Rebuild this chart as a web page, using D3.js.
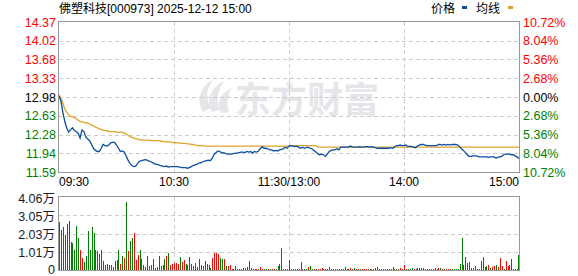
<!DOCTYPE html>
<html>
<head>
<meta charset="utf-8">
<script src="https://cdn.jsdelivr.net/npm/d3@7"></script>
<style>
  body { margin: 0; background: #fff; }
  text { font-family: "Liberation Sans", Arial, "Noto Sans CJK SC", sans-serif; }
</style>
</head>
<body>
<script>
const width = 578;
const height = 276;

// header
const title = "佛塑科技[000973] 2025-12-12 15:00";
const prevClose = 12.98;

// price axis ticks and the matching percent labels
const priceTicks = [14.37, 14.02, 13.68, 13.33, 12.98, 12.63, 12.28, 11.94, 11.59];
const pctLabels = ["10.72%", "8.04%", "5.36%", "2.68%", "0.00%", "2.68%", "5.36%", "8.04%", "10.72%"];

// time labels (minute index -> label)
const timeTicks = [0, 60, 120, 180, 240];
const timeLabels = ["09:30", "10:30", "11:30/13:00", "14:00", "15:00"];

// volume axis (unit: 万)
const volTicks = [0, 1.01, 2.03, 3.05, 4.06];
const volLabels = ["0", "1.01万", "2.03万", "3.05万", "4.06万"];

// minute prices, 09:30 .. 15:00 (241 points)
const prices = [
  13.00, 12.91, 12.70, 12.53, 12.41, 12.33, 12.37, 12.41, 12.36, 12.34,
  12.31, 12.22, 12.37, 12.34, 12.24, 12.20, 12.17, 12.10, 12.03, 11.99,
  11.97, 11.97, 12.03, 12.10, 12.08, 12.07, 12.09, 12.13, 12.14, 12.14,
  12.09, 12.03, 11.97, 11.98, 11.96, 11.89, 11.81, 11.75, 11.71, 11.69,
  11.70, 11.75, 11.79, 11.80, 11.81, 11.82, 11.81, 11.79, 11.78, 11.76,
  11.74, 11.73, 11.72, 11.71, 11.70, 11.69, 11.70, 11.68, 11.69, 11.69,
  11.69, 11.69, 11.69, 11.68, 11.67, 11.67, 11.67, 11.66, 11.67, 11.69,
  11.71, 11.72, 11.73, 11.76, 11.76, 11.78, 11.79, 11.80, 11.81, 11.80,
  11.85, 11.92, 11.95, 11.98, 11.97, 11.94, 11.95, 11.93, 11.92, 11.92,
  11.92, 11.93, 11.94, 11.94, 11.95, 11.96, 11.96, 11.95, 11.97, 11.96,
  11.97, 11.94, 11.97, 11.96, 11.98, 12.02, 12.06, 12.03, 12.03, 12.02,
  12.00, 12.00, 11.98, 11.99, 11.98, 12.00, 12.01, 12.02, 12.05, 12.03,
  12.07, 12.08, 12.07, 12.06, 12.07, 12.05, 12.03, 12.05, 12.03, 12.04,
  12.05, 12.03, 12.02, 11.99, 11.96, 11.93, 11.91, 11.92, 11.91, 11.88,
  11.92, 11.97, 11.99, 12.00, 12.00, 12.02, 12.00, 12.05, 12.05, 12.05,
  12.05, 12.05, 12.07, 12.05, 12.05, 12.05, 12.05, 12.06, 12.05, 12.05,
  12.06, 12.06, 12.05, 12.06, 12.05, 12.04, 12.03, 12.03, 12.03, 12.03,
  12.03, 12.03, 12.03, 12.04, 12.03, 12.05, 12.08, 12.08, 12.09, 12.08,
  12.08, 12.09, 12.06, 12.07, 12.06, 12.05, 12.04, 12.07, 12.09, 12.10,
  12.10, 12.09, 12.08, 12.08, 12.08, 12.08, 12.08, 12.08, 12.10, 12.10,
  12.09, 12.10, 12.09, 12.10, 12.09, 12.10, 12.10, 12.10, 12.09, 12.06,
  12.02, 11.99, 11.95, 11.91, 11.88, 11.88, 11.89, 11.89, 11.89, 11.87,
  11.87, 11.87, 11.87, 11.87, 11.86, 11.87, 11.87, 11.87, 11.85, 11.86,
  11.87, 11.88, 11.91, 11.92, 11.92, 11.92, 11.91, 11.91, 11.89, 11.87, 11.84
];

// average price line
const avgPrices = [
  13.02, 12.95, 12.87, 12.76, 12.70, 12.65, 12.62, 12.61, 12.60, 12.58,
  12.55, 12.53, 12.52, 12.51, 12.50, 12.50, 12.48, 12.46, 12.45, 12.42,
  12.41, 12.39, 12.38, 12.36, 12.36, 12.35, 12.34, 12.34, 12.34, 12.34,
  12.33, 12.33, 12.33, 12.33, 12.31, 12.30, 12.27, 12.25, 12.23, 12.22,
  12.21, 12.20, 12.19, 12.18, 12.18, 12.18, 12.18, 12.18, 12.17, 12.17,
  12.17, 12.17, 12.17, 12.16, 12.16, 12.15, 12.15, 12.15, 12.15, 12.14,
  12.13, 12.13, 12.13, 12.13, 12.12, 12.12, 12.12, 12.11, 12.11, 12.10,
  12.10, 12.09, 12.08, 12.08, 12.08, 12.08, 12.07, 12.07, 12.07, 12.07,
  12.07, 12.07, 12.07, 12.07, 12.07, 12.07, 12.07, 12.07, 12.07, 12.07,
  12.07, 12.07, 12.07, 12.07, 12.07, 12.07, 12.07, 12.07, 12.07, 12.07,
  12.07, 12.07, 12.07, 12.07, 12.07, 12.07, 12.07, 12.07, 12.07, 12.07,
  12.07, 12.07, 12.07, 12.07, 12.07, 12.07, 12.07, 12.07, 12.07, 12.07,
  12.07, 12.08, 12.08, 12.08, 12.08, 12.08, 12.08, 12.08, 12.08, 12.08,
  12.08, 12.08, 12.08, 12.08, 12.08, 12.05, 12.05, 12.05, 12.05, 12.05,
  12.05, 12.05, 12.05, 12.05, 12.05, 12.05, 12.05, 12.05, 12.05, 12.05,
  12.05, 12.05, 12.05, 12.05, 12.05, 12.05, 12.05, 12.05, 12.05, 12.05,
  12.05, 12.05, 12.05, 12.05, 12.05, 12.05, 12.05, 12.05, 12.05, 12.05,
  12.05, 12.05, 12.05, 12.05, 12.05, 12.05, 12.05, 12.05, 12.05, 12.05,
  12.05, 12.05, 12.05, 12.05, 12.05, 12.05, 12.05, 12.05, 12.05, 12.05,
  12.05, 12.05, 12.05, 12.05, 12.05, 12.05, 12.05, 12.05, 12.05, 12.05,
  12.05, 12.05, 12.05, 12.05, 12.05, 12.05, 12.05, 12.05, 12.05, 12.05,
  12.05, 12.05, 12.05, 12.05, 12.05, 12.05, 12.05, 12.05, 12.05, 12.05,
  12.05, 12.05, 12.05, 12.05, 12.05, 12.05, 12.05, 12.05, 12.05, 12.05,
  12.05, 12.05, 12.05, 12.05, 12.05, 12.05, 12.05, 12.05, 12.05, 12.05, 12.05
];

// minute volume in 万 shares
const volumes = [
  2.67, 2.22, 2.39, 1.94, 2.56, 2.72, 1.56, 1.50, 1.11, 2.44,
  1.78, 1.11, 0.67, 0.44, 0.78, 2.17, 1.11, 2.39, 2.06, 1.11,
  1.06, 0.89, 1.11, 0.50, 0.28, 0.33, 0.28, 0.28, 0.17, 0.50,
  0.56, 1.11, 0.33, 0.78, 0.67, 3.78, 1.06, 1.61, 1.78, 2.06,
  0.56, 0.83, 1.11, 0.61, 0.28, 0.17, 0.78, 0.22, 0.28, 0.61,
  0.11, 0.17, 0.78, 0.22, 0.28, 0.61, 0.78, 0.94, 0.28, 0.33,
  0.39, 0.39, 0.33, 0.72, 0.44, 0.56, 0.33, 0.28, 0.72, 0.33,
  0.22, 0.39, 0.17, 0.61, 0.28, 0.22, 0.50, 0.33, 0.28, 0.11,
  0.67, 0.94, 0.94, 0.89, 0.67, 0.61, 0.61, 0.22, 0.22, 0.28,
  0.06, 0.06, 0.22, 0.06, 0.06, 0.06, 0.11, 0.11, 0.17, 0.50,
  0.11, 0.06, 0.06, 0.06, 0.06, 0.17, 0.06, 0.06, 0.06, 0.06,
  0.06, 0.06, 0.06, 0.06, 0.22, 0.33, 1.22, 0.06, 0.06, 0.06,
  0.56, 0.06, 0.06, 0.06, 0.06, 0.06, 0.44, 0.06, 0.06, 0.06,
  0.17, 0.22, 0.06, 0.06, 0.06, 0.06, 0.06, 0.11, 0.06, 0.06,
  0.06, 0.17, 0.06, 0.06, 0.06, 0.06, 0.06, 0.06, 0.06, 0.17,
  0.06, 0.06, 0.11, 0.06, 0.11, 0.06, 0.06, 0.06, 0.06, 0.06,
  0.06, 0.06, 0.06, 0.06, 0.06, 0.11, 0.17, 0.06, 0.06, 0.06,
  0.06, 0.06, 0.06, 0.06, 0.17, 0.06, 0.06, 0.06, 0.11, 0.06,
  0.28, 0.06, 0.06, 0.06, 0.11, 0.06, 0.06, 0.11, 0.11, 0.11,
  0.11, 0.06, 0.06, 0.06, 0.06, 0.06, 0.11, 0.06, 0.11, 0.11,
  0.06, 0.06, 0.06, 0.06, 0.06, 0.06, 0.06, 0.06, 0.06, 0.33,
  1.78, 0.28, 0.72, 0.39, 0.44, 0.11, 0.11, 0.22, 0.06, 0.06,
  0.50, 0.72, 0.17, 0.22, 0.28, 0.11, 0.17, 0.22, 0.28, 0.17,
  0.67, 0.22, 0.06, 0.50, 0.22, 0.28, 0.61, 0.06, 0.06, 0.06, 0.83
];

// r = up minute, g = down minute
const volDir = ("gggggrrggg grrggggggr rgrggrrrrg ggrgrgrggr rrgrrrgggg " +
  "rrgrggrgrr rrrgrrggrr rrrrrrgrgg rrrrggrgrr rrgrrrgggr " +
  "rgrrgrrggr grrggrrrrr rgggrggrgg rggrgrrrgg rrgrrgrgrg " +
  "rgrrgrrgrr rgrgrggrrg rrggrgrgrr rrgggrgrrr grrrgrgrrg " +
  "rgrrrggggg gggrggrrgr grrgrgrrgr rrgrrrgrggg").replace(/ /g, "").split("");

const red = "#ff0000";
const green = "#008000";
const blue = "#0b4ea2";
const gold = "#dea32a";

var svg = d3.select("body")
  .append("svg")
  .attr("width", width)
  .attr("height", height);

var x = d3.scaleLinear().domain([0, 240]).range([59, 519]);
var y = d3.scaleLinear().domain([11.59, 14.37]).range([172, 22]);
var yv = d3.scaleLinear().domain([0, 4.06]).range([270, 197]);

// watermark
var wm = svg.append("g").attr("fill", "#e6e6ea");
wm.append("path")
  .attr("d", "M203,112 C196,100 200,86 214,79 C206,88 205,99 211,108 Z" +
             "M212,112 C206,100 210,88 224,81 C217,91 216,101 220,110 Z" +
             "M221,113 C216,103 220,93 232,88 C227,96 226,105 229,112 Z");
wm.append("text")
  .attr("x", 235).attr("y", 113)
  .attr("font-size", 36).attr("font-weight", "bold")
  .style("font-family", "'Noto Sans CJK SC', sans-serif")
  .text("东方财富");

// grid
function grid(g, ys, x0, x1, y0, y1) {
  g.selectAll(".h").data(ys).enter().append("line")
    .attr("x1", x0).attr("x2", x1)
    .attr("y1", d => Math.round(d) + 0.5).attr("y2", d => Math.round(d) + 0.5);
  g.selectAll(".v").data([60, 120, 180]).enter().append("line")
    .attr("x1", d => Math.round(x(d)) + 0.5).attr("x2", d => Math.round(x(d)) + 0.5)
    .attr("y1", y0).attr("y2", y1);
}
var g1 = svg.append("g").attr("stroke", "#cccccc").attr("stroke-dasharray", "4,3");
grid(g1, priceTicks.slice(1, -1).map(y), 59, 519, 22, 172);
var g2 = svg.append("g").attr("stroke", "#cccccc").attr("stroke-dasharray", "4,3");
grid(g2, volTicks.slice(1, -1).map(yv), 59, 519, 197, 270);

// price and average lines
svg.append("clipPath").attr("id", "clip")
  .append("rect").attr("x", 59).attr("y", 22).attr("width", 460).attr("height", 150);

var line = d3.line().x((d, i) => x(i)).y(d => y(d));

svg.append("path")
  .datum(avgPrices)
  .attr("clip-path", "url(#clip)")
  .attr("fill", "none")
  .attr("stroke", gold)
  .attr("stroke-width", 1.3)
  .attr("d", line);

svg.append("path")
  .datum(prices)
  .attr("clip-path", "url(#clip)")
  .attr("fill", "none")
  .attr("stroke", blue)
  .attr("stroke-width", 1.3)
  .attr("d", line);

// volume bars, snapped to whole pixels so they stay crisp
svg.selectAll(".vol")
  .data(volumes)
  .enter()
  .append("rect")
  .attr("class", "vol")
  .attr("x", (d, i) => Math.min(Math.round(x(i)), 518))
  .attr("width", 1)
  .attr("y", d => Math.round(yv(d)))
  .attr("height", d => 270 - Math.round(yv(d)))
  .attr("fill", (d, i) => volDir[i] === "r" ? red : green)
  .attr("shape-rendering", "crispEdges");

// frames
svg.append("rect").attr("x", 58.5).attr("y", 21.5).attr("width", 461).attr("height", 151)
  .attr("fill", "none").attr("stroke", "#999");
svg.append("rect").attr("x", 58.5).attr("y", 196.5).attr("width", 461).attr("height", 74)
  .attr("fill", "none").attr("stroke", "#999");

function tickColor(d) {
  if (Math.abs(d - prevClose) < 0.001) return "#000";
  return d > prevClose ? red : green;
}

// left price axis
var left = svg.append("g")
  .attr("transform", "translate(59,0)")
  .call(d3.axisLeft(y).tickValues(priceTicks).tickSize(0).tickPadding(3)
    .tickFormat(d3.format(".2f")));
left.select(".domain").remove();
left.selectAll("text").attr("font-size", 12.5).style("font-family", "'Liberation Sans', Arial")
  .attr("fill", d => tickColor(d));

// right percent axis
var right = svg.append("g")
  .attr("transform", "translate(519,0)")
  .call(d3.axisRight(y).tickValues(priceTicks).tickSize(0).tickPadding(4)
    .tickFormat((d, i) => pctLabels[i]));
right.select(".domain").remove();
right.selectAll("text").attr("font-size", 12.5).style("font-family", "'Liberation Sans', Arial")
  .attr("fill", d => tickColor(d));

// volume axis
var vax = svg.append("g")
  .attr("transform", "translate(58,1)")
  .call(d3.axisLeft(yv).tickValues(volTicks).tickSize(0).tickPadding(3)
    .tickFormat((d, i) => volLabels[i]));
vax.select(".domain").remove();
vax.selectAll("text").attr("font-size", 12.5)
  .style("font-family", "'Liberation Sans', Arial, 'Noto Sans CJK SC'")
  .attr("fill", "#1a1a2e");
// keep the zero label inside the picture
vax.selectAll("text").filter(d => d === 0).attr("dy", "0.2em");

// time labels
svg.selectAll(".tlab")
  .data(timeTicks)
  .enter()
  .append("text")
  .attr("class", "tlab")
  .attr("x", d => x(d))
  .attr("y", 186)
  .attr("font-size", 12)
  .attr("text-anchor", (d, i) => i === 0 ? "start" : (i === timeTicks.length - 1 ? "end" : "middle"))
  .text((d, i) => timeLabels[i]);

// title
svg.append("text")
  .attr("x", 59).attr("y", 13)
  .attr("font-size", 12)
  .style("font-family", "'Liberation Sans', Arial, 'Noto Sans CJK SC'")
  .text(title);

// legend
var legend = svg.append("g").attr("font-size", 12)
  .style("font-family", "'Noto Sans CJK SC', sans-serif");
legend.append("text").attr("x", 431).attr("y", 13).text("价格");
legend.append("rect").attr("x", 462).attr("y", 6).attr("width", 5).attr("height", 3).attr("fill", blue);
legend.append("text").attr("x", 476).attr("y", 13).text("均线");
legend.append("rect").attr("x", 508).attr("y", 6).attr("width", 5).attr("height", 3).attr("fill", gold);
</script>
</body>
</html>
